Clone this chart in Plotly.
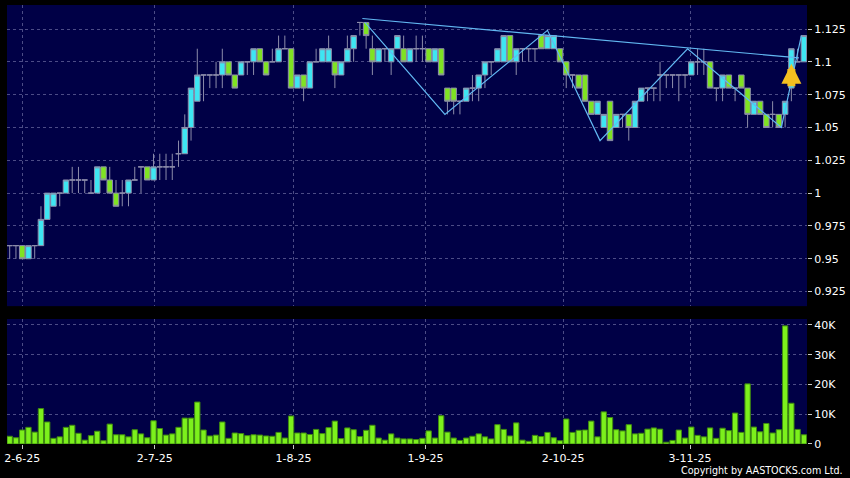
import plotly.graph_objects as go

# daily bars, 29 May 2025 .. 28 Nov 2025 (trading day index 0..127)
opens = [0.96, 0.96, 0.96, 0.95, 0.96, 0.96, 0.98, 0.99, 1.00, 1.00,
         1.01, 1.01, 1.01, 1.00, 1.00, 1.02, 1.01, 1.00, 1.00, 1.00,
         1.01, 1.02, 1.02, 1.01, 1.02, 1.02, 1.02, 1.03, 1.03, 1.05,
         1.07, 1.09, 1.09, 1.09, 1.09, 1.10, 1.09, 1.09, 1.10, 1.10,
         1.11, 1.10, 1.10, 1.10, 1.11, 1.11, 1.08, 1.09, 1.08, 1.10,
         1.10, 1.10, 1.10, 1.09, 1.10, 1.11, 1.13, 1.13, 1.11, 1.10,
         1.11, 1.10, 1.11, 1.11, 1.10, 1.11, 1.11, 1.11, 1.10, 1.11,
         1.08, 1.08, 1.07, 1.07, 1.08, 1.08, 1.09, 1.10, 1.10, 1.10,
         1.12, 1.10, 1.11, 1.11, 1.11, 1.12, 1.11, 1.11, 1.11, 1.10,
         1.09, 1.09, 1.09, 1.07, 1.06, 1.05, 1.07, 1.05, 1.06, 1.06,
         1.05, 1.07, 1.08, 1.08, 1.09, 1.09, 1.09, 1.09, 1.09, 1.09,
         1.10, 1.10, 1.10, 1.08, 1.08, 1.09, 1.08, 1.09, 1.08, 1.06,
         1.07, 1.06, 1.06, 1.06, 1.06, 1.08, 1.10, 1.10]
highs = [0.96, 0.96, 0.96, 0.96, 0.96, 0.99, 1.00, 1.00, 1.00, 1.01,
         1.02, 1.02, 1.01, 1.01, 1.02, 1.02, 1.02, 1.01, 1.01, 1.01,
         1.02, 1.02, 1.02, 1.03, 1.03, 1.03, 1.03, 1.04, 1.06, 1.08,
         1.11, 1.09, 1.09, 1.10, 1.11, 1.10, 1.09, 1.10, 1.10, 1.11,
         1.11, 1.10, 1.11, 1.12, 1.12, 1.11, 1.09, 1.09, 1.10, 1.11,
         1.11, 1.12, 1.10, 1.10, 1.12, 1.12, 1.13, 1.13, 1.12, 1.11,
         1.11, 1.11, 1.12, 1.12, 1.11, 1.12, 1.12, 1.11, 1.11, 1.11,
         1.08, 1.08, 1.07, 1.08, 1.09, 1.09, 1.10, 1.10, 1.11, 1.12,
         1.12, 1.11, 1.11, 1.11, 1.11, 1.12, 1.12, 1.12, 1.11, 1.10,
         1.09, 1.09, 1.09, 1.07, 1.07, 1.06, 1.07, 1.06, 1.06, 1.06,
         1.07, 1.08, 1.08, 1.08, 1.10, 1.09, 1.09, 1.09, 1.09, 1.10,
         1.11, 1.11, 1.10, 1.08, 1.09, 1.09, 1.08, 1.09, 1.08, 1.07,
         1.07, 1.06, 1.07, 1.06, 1.07, 1.11, 1.11, 1.12]
lows = [0.95, 0.95, 0.95, 0.95, 0.95, 0.96, 0.98, 0.99, 0.99, 1.00,
        1.00, 1.00, 1.00, 1.00, 1.00, 1.01, 1.00, 0.99, 0.99, 0.99,
        1.01, 1.00, 1.01, 1.01, 1.01, 1.01, 1.01, 1.02, 1.03, 1.04,
        1.07, 1.07, 1.08, 1.08, 1.08, 1.09, 1.08, 1.09, 1.09, 1.09,
        1.10, 1.09, 1.10, 1.10, 1.11, 1.08, 1.08, 1.07, 1.08, 1.10,
        1.10, 1.10, 1.08, 1.09, 1.10, 1.10, 1.12, 1.11, 1.09, 1.10,
        1.10, 1.09, 1.11, 1.10, 1.10, 1.10, 1.10, 1.10, 1.10, 1.09,
        1.06, 1.06, 1.06, 1.07, 1.07, 1.07, 1.08, 1.09, 1.10, 1.10,
        1.10, 1.09, 1.10, 1.10, 1.10, 1.11, 1.11, 1.11, 1.10, 1.08,
        1.08, 1.08, 1.07, 1.06, 1.06, 1.05, 1.04, 1.05, 1.05, 1.04,
        1.05, 1.07, 1.07, 1.07, 1.07, 1.08, 1.08, 1.07, 1.08, 1.09,
        1.09, 1.09, 1.08, 1.07, 1.07, 1.08, 1.07, 1.08, 1.05, 1.06,
        1.06, 1.05, 1.05, 1.05, 1.05, 1.07, 1.10, 1.10]
closes = [0.96, 0.96, 0.95, 0.96, 0.96, 0.98, 1.00, 1.00, 1.00, 1.01,
          1.01, 1.01, 1.01, 1.00, 1.02, 1.01, 1.00, 0.99, 1.00, 1.01,
          1.01, 1.02, 1.01, 1.02, 1.02, 1.02, 1.02, 1.03, 1.05, 1.08,
          1.09, 1.09, 1.09, 1.09, 1.10, 1.09, 1.08, 1.10, 1.10, 1.11,
          1.10, 1.09, 1.10, 1.11, 1.11, 1.08, 1.09, 1.08, 1.10, 1.10,
          1.11, 1.11, 1.09, 1.10, 1.11, 1.12, 1.13, 1.12, 1.10, 1.11,
          1.11, 1.11, 1.12, 1.10, 1.11, 1.11, 1.11, 1.10, 1.11, 1.09,
          1.07, 1.07, 1.07, 1.08, 1.08, 1.09, 1.10, 1.10, 1.11, 1.12,
          1.10, 1.11, 1.11, 1.11, 1.11, 1.11, 1.12, 1.12, 1.10, 1.09,
          1.09, 1.08, 1.07, 1.06, 1.07, 1.06, 1.04, 1.06, 1.06, 1.05,
          1.07, 1.08, 1.08, 1.08, 1.09, 1.09, 1.09, 1.09, 1.09, 1.10,
          1.10, 1.10, 1.08, 1.08, 1.09, 1.08, 1.08, 1.08, 1.06, 1.07,
          1.06, 1.05, 1.06, 1.05, 1.07, 1.11, 1.10, 1.12]
volumes = [2.6, 2.1, 4.7, 5.6, 4.0, 11.9, 7.4, 1.9, 2.4, 5.6,
           6.3, 3.6, 1.3, 2.8, 4.3, 1.1, 6.7, 3.1, 3.1, 2.4,
           4.8, 3.4, 2.1, 7.8, 5.2, 3.0, 3.4, 5.6, 8.7, 8.7,
           14.1, 4.7, 2.7, 3.0, 7.4, 1.9, 3.7, 3.5, 2.8, 3.1,
           3.0, 2.7, 2.6, 3.9, 2.0, 9.4, 3.7, 3.7, 3.2, 4.9,
           3.5, 5.5, 7.7, 1.8, 5.4, 4.8, 2.5, 4.6, 6.3, 2.0,
           1.3, 3.4, 2.0, 1.7, 1.7, 1.5, 1.9, 4.4, 2.0, 9.5,
           4.0, 2.0, 1.2, 2.0, 2.6, 3.4, 2.4, 1.7, 6.5, 4.9,
           2.7, 7.1, 1.3, 0.9, 2.9, 2.5, 3.9, 2.1, 1.1, 8.4,
           3.9, 4.6, 4.7, 7.7, 2.4, 10.8, 8.9, 4.8, 4.4, 6.5,
           3.4, 3.6, 5.0, 5.4, 5.0, 0.6, 1.2, 4.7, 2.0, 5.7,
           2.9, 2.4, 5.4, 1.9, 5.3, 4.5, 10.4, 3.9, 20.2, 5.7,
           4.1, 6.9, 3.7, 4.8, 39.7, 13.7, 4.9, 3.1]
volumes = [v * 1000 for v in volumes]
days = list(range(len(closes)))

# date labels on the x axis
date_pos = [2, 23.2, 45.4, 66.5, 88.5, 108.8]
date_labels = ["2-6-25", "2-7-25", "1-8-25", "1-9-25", "2-10-25", "3-11-25"]

price_ticks = [0.925, 0.95, 0.975, 1.0, 1.025, 1.05, 1.075, 1.1, 1.125]
price_labels = ["0.925", "0.95", "0.975", "1", "1.025", "1.05", "1.075", "1.1", "1.125"]
vol_ticks = [0, 10000, 20000, 30000, 40000]
vol_labels = ["0", "10K", "20K", "30K", "40K"]

# drawn trend lines
resist_x = [56.4, 126.2]
resist_y = [1.133, 1.103]
zigzag_x = [56.8, 69.6, 86.0, 94.4, 108.4, 123.4, 126.6]
zigzag_y = [1.13, 1.06, 1.124, 1.04, 1.11, 1.05, 1.12]

# buy signal
signal_day = 125
signal_price = 1.0985

BG = "#000046"
GRID = "#4c4c86"
WICK = "#8c8caa"
LINE = "#62b8f2"
FONT = "DejaVu Sans"

fig = go.Figure()
fig.add_trace(go.Candlestick(
    x=days, open=opens, high=highs, low=lows, close=closes,
    increasing=dict(fillcolor="#3ee6f2", line=dict(color=WICK, width=1)),
    decreasing=dict(fillcolor="#7fe322", line=dict(color=WICK, width=1)),
    xaxis="x", yaxis="y", showlegend=False))
fig.add_trace(go.Scatter(x=resist_x, y=resist_y, mode="lines",
                         line=dict(color=LINE, width=1.2), showlegend=False))
fig.add_trace(go.Scatter(x=zigzag_x, y=zigzag_y, mode="lines",
                         line=dict(color=LINE, width=1.2), showlegend=False))
fig.add_trace(go.Bar(x=days, y=volumes, xaxis="x2", yaxis="y2",
                     marker=dict(color="#7cf01c", line=dict(color="#3f8a10", width=1)),
                     showlegend=False))

fig.add_annotation(x=signal_day, y=signal_price, xref="x", yref="y", ax=0, ay=24,
                   showarrow=True, arrowhead=2, arrowsize=0.5, arrowwidth=8,
                   arrowcolor="#f4c020", text="")

fig.add_annotation(x=1, y=0, xref="paper", yref="paper", xanchor="right", yanchor="top",
                   xshift=38, yshift=-19, showarrow=False,
                   text="Copyright by AASTOCKS.com Ltd.",
                   font=dict(family=FONT, size=9.6, color="white"))

axis_common = dict(showgrid=True, gridcolor=GRID, griddash="3px,3px", gridwidth=1,
                   zeroline=False, showline=False)
fig.update_layout(
    width=850, height=478,
    margin=dict(l=4, r=43, t=5, b=34),
    paper_bgcolor="black", plot_bgcolor=BG,
    font=dict(family=FONT, size=11, color="white"),
    boxgap=0.12, boxgroupgap=0, bargap=0.15,
    xaxis=dict(domain=[0, 1], anchor="y", range=[-0.43, 127.5], rangeslider=dict(visible=False),
               tickvals=date_pos, ticktext=[""] * len(date_pos), ticks="", **axis_common),
    xaxis2=dict(domain=[0, 1], anchor="y2", matches="x", range=[-0.43, 127.5],
                tickvals=date_pos, ticktext=date_labels, ticks="outside", ticklen=4,
                tickcolor="#c8c8c8", **axis_common),
    yaxis=dict(domain=[0.314, 1], side="right", range=[0.9139, 1.1433],
               tickvals=price_ticks, ticktext=price_labels, ticks="outside", ticklen=4,
               tickcolor="#c8c8c8", **axis_common),
    yaxis2=dict(domain=[0, 0.2847], side="right", range=[0, 42000],
                tickvals=vol_ticks, ticktext=vol_labels, ticks="outside", ticklen=4,
                tickcolor="#c8c8c8", **axis_common),
)

fig.write_html("out.html", config={"displayModeBar": False},
               post_script="document.body.style.margin='0';")
